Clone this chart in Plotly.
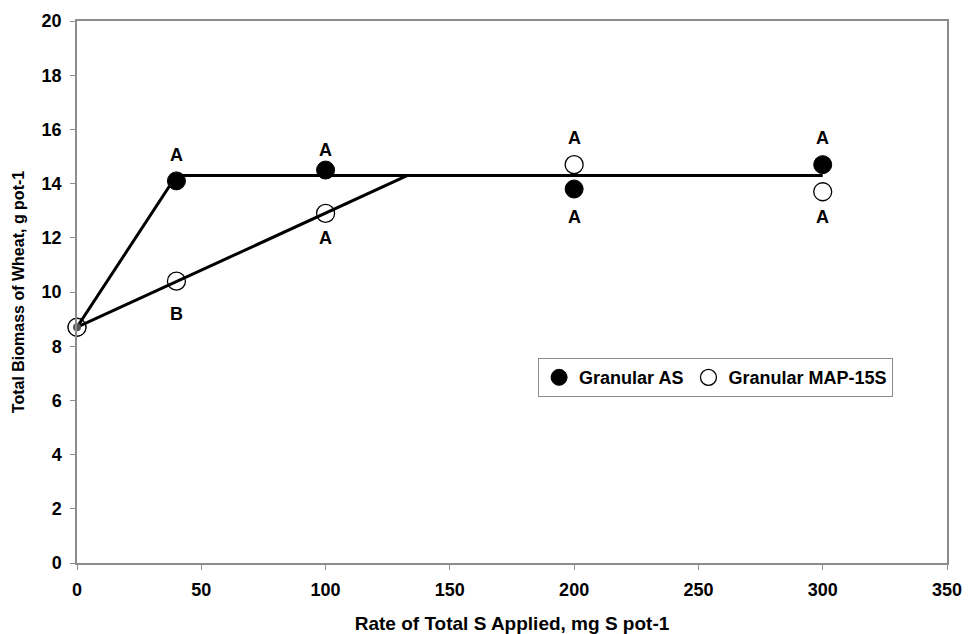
import plotly.graph_objects as go

# Data
rates = [0, 40, 100, 200, 300]
as_biomass = [8.7, 14.1, 14.5, 13.8, 14.7]
map_biomass = [8.7, 10.4, 12.9, 14.7, 13.7]

as_fit_x = [0, 40, 300]
as_fit_y = [8.7, 14.3, 14.3]
map_fit_x = [0, 133]
map_fit_y = [8.7, 14.3]

x_ticks = [0, 50, 100, 150, 200, 250, 300, 350]
y_ticks = list(range(0, 21, 2))

# significance letters
as_letters = ["", "A", "A", "A", "A"]
as_letter_y = [None, 15.05, 15.25, 12.75, 15.7]
map_letters = ["", "B", "A", "A", "A"]
map_letter_y = [None, 9.2, 12.0, 15.7, 12.75]

FONT = "Liberation Sans, Arial, sans-serif"

fig = go.Figure()

fig.add_trace(go.Scatter(
    x=rates, y=as_biomass, mode="markers", name="Granular AS", cliponaxis=False,
    marker=dict(symbol="circle", size=18, color="black", line=dict(color="black", width=1)),
))
fig.add_trace(go.Scatter(
    x=rates, y=map_biomass, mode="markers", name="Granular MAP-15S", cliponaxis=False,
    marker=dict(symbol="circle", size=18, color="white", line=dict(color="black", width=1.3)),
))
fig.add_trace(go.Scatter(
    x=as_fit_x, y=as_fit_y, mode="lines", showlegend=False, cliponaxis=False,
    line=dict(color="black", width=3), hoverinfo="skip",
))
fig.add_trace(go.Scatter(
    x=map_fit_x, y=map_fit_y, mode="lines", showlegend=False, cliponaxis=False,
    line=dict(color="black", width=3), hoverinfo="skip",
))
# small grey dot where both series coincide at zero
fig.add_trace(go.Scatter(
    x=rates[:1], y=as_biomass[:1], mode="markers", showlegend=False, cliponaxis=False,
    marker=dict(symbol="circle", size=8, color="#555555"), hoverinfo="skip",
))

for x, t, y in zip(rates, as_letters, as_letter_y):
    if t:
        fig.add_annotation(x=x, y=y, text=t, showarrow=False,
                           font=dict(family=FONT, size=18, color="black", weight="bold"))
for x, t, y in zip(rates, map_letters, map_letter_y):
    if t:
        fig.add_annotation(x=x, y=y, text=t, showarrow=False,
                           font=dict(family=FONT, size=18, color="black", weight="bold"))

axis_common = dict(
    showgrid=False, zeroline=False, showline=True, linecolor="#8c8c8c", linewidth=1.5,
    mirror=True, ticks="outside", ticklen=5, tickcolor="#8c8c8c", automargin=False,
    tickfont=dict(family=FONT, size=18, color="black", weight="bold"),
)

fig.update_layout(
    width=969, height=634,
    margin=dict(l=77, r=22, t=21, b=71),
    paper_bgcolor="white", plot_bgcolor="white",
    font=dict(family=FONT, color="black"),
    xaxis=dict(range=[0, 350], tickvals=x_ticks, ticklabelstandoff=5,
               title=dict(text="Rate of Total S Applied, mg S pot-1",
                          font=dict(family=FONT, size=19, weight="bold"), standoff=17),
               **axis_common),
    yaxis=dict(range=[0, 20], tickvals=y_ticks, ticklabelstandoff=5,
               title=dict(text="Total Biomass of Wheat, g pot-1",
                          font=dict(family=FONT, size=16, weight="bold"), standoff=13),
               **axis_common),
    legend=dict(orientation="h", x=0.53, y=0.378, xanchor="left", yanchor="top",
                bordercolor="#8c8c8c", borderwidth=1, bgcolor="white",
                font=dict(family=FONT, size=18, color="black", weight="bold"),
                itemwidth=30, tracegroupgap=0),
    showlegend=True,
)

fig.write_html("out.html")
